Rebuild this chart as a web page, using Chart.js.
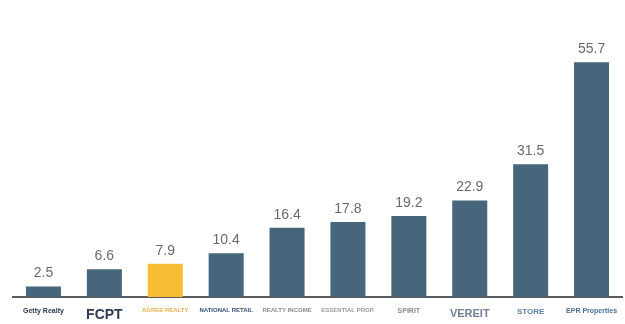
<!DOCTYPE html>
<html>
<head>
<meta charset="utf-8">
<script src="https://cdn.jsdelivr.net/npm/chart.js@4"></script>
<style>
  html, body { margin: 0; padding: 0; background: #fff; }
  #wrap { width: 625px; height: 324px; position: relative; }
</style>
</head>
<body>
<div id="wrap"><canvas id="reitChart"></canvas></div>
<script>
const companies = ['Getty Realty', 'FCPT', 'AGREE REALTY', 'NATIONAL RETAIL', 'REALTY INCOME', 'ESSENTIAL PROP.', 'SPIRIT', 'VEREIT', 'STORE', 'EPR Properties']
const values = [2.5, 6.6, 7.9, 10.4, 16.4, 17.8, 19.2, 22.9, 31.5, 55.7]
const barColors = ['#47657b', '#47657b', '#f7bd35', '#47657b', '#47657b', '#47657b', '#47657b', '#47657b', '#47657b', '#47657b']
const labelColors = ['#2b3a55', '#2b3a55', '#e8b04a', '#35507a', '#8a8a8a', '#9a9a9a', '#8c8c8c', '#6f7f95', '#5b7fa8', '#4a6f9c']
const labelSizes = [7, 14, 6, 6, 6, 6, 7, 11, 8, 7]

// draws the number above each bar
const valueLabels = {
    id: 'valueLabels',
    afterDatasetsDraw(chart){
        const ctx = chart.ctx
        const meta = chart.getDatasetMeta(0)
        ctx.save()
        ctx.font = '14px "Liberation Sans", Arial, sans-serif'
        ctx.fillStyle = '#6a6a6a'
        ctx.textAlign = 'center'
        ctx.textBaseline = 'bottom'
        meta.data.forEach(function(bar, i){
            ctx.fillText(values[i].toFixed(1), bar.x, bar.y - 6)
        })
        ctx.restore()
    }
}

let reitChart = new Chart(document.getElementById('reitChart').getContext('2d'), {
    type: 'bar',
    data:{
        labels: companies,
        datasets:[{
            data: values,
            backgroundColor: barColors,
            barPercentage: 0.575,
            categoryPercentage: 1
        }]
    },
    options:{
        responsive: true,
        maintainAspectRatio: false,
        animation: false,
        layout: { padding: { left: 13, right: 3, top: 44, bottom: 0 } },
        plugins: { legend: { display: false }, tooltip: { enabled: false } },
        scales: {
            y: { display: false, min: 0, max: 60 },
            x: {
                grid: { display: false },
                border: { display: true, color: '#5a5a5a', width: 2 },
                afterFit(scale){ scale.height = 27 },
                ticks: {
                    padding: 2,
                    maxRotation: 0,
                    autoSkip: false,
                    color: function(c){ return labelColors[c.index] },
                    font: function(c){
                        return { family: '"Liberation Sans", Arial, sans-serif', size: labelSizes[c.index], weight: 'bold' }
                    }
                }
            }
        }
    },
    plugins: [valueLabels]
})
</script>
</body>
</html>
